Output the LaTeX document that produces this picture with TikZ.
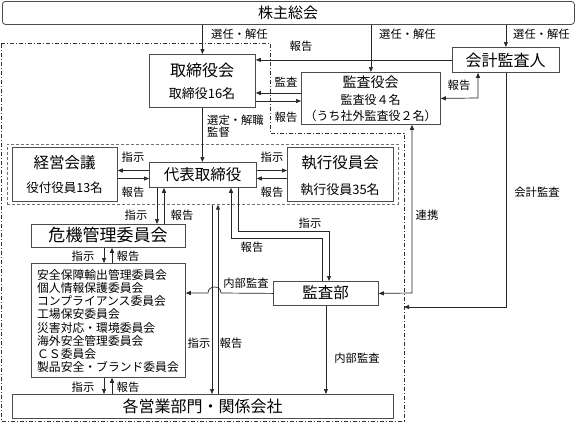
\documentclass[tikz,border=0pt]{standalone}
\usepackage{fontspec}
\setmainfont{Noto Sans CJK JP}
\usetikzlibrary{arrows.meta}
\newcommand\fsz[1]{\fontsize{#1bp}{#1bp}\selectfont}
\tikzset{
  box/.style={draw=black!70, line width=0.8bp, rectangle, inner sep=0pt, anchor=north west},
  conn/.style={draw=black!85, line width=0.7bp},
  arr/.style={conn, -{Triangle[length=5bp,width=4bp]}},
  barr/.style={conn, {Triangle[length=5bp,width=4bp]}-{Triangle[length=5bp,width=4bp]}},
  lab/.style={inner sep=0pt, font=\fsz{11.3}},
  txt/.style={inner sep=0pt},
  outerline/.style={draw=black!80, line width=0.7bp, dash pattern=on 4bp off 2bp on 1bp off 2bp},
  grpline/.style={draw=black!55, line width=0.7bp, dash pattern=on 3bp off 2bp},
}
\begin{document}
\begin{tikzpicture}[x=1bp,y=-1bp]
\useasboundingbox (0,0) rectangle (576,424);
\fill[white] (0,0) rectangle (576,424);

% outer dash-dot region
\draw[outerline] (1,43) -- (270,43) -- (270,133) -- (404,133) -- (404,421) -- (1,421) -- cycle;
% inner dashed group
\node[rectangle, grpline, inner sep=0pt, anchor=north west, minimum width=391bp, minimum height=60bp] (grp) at (7,144) {};

% boxes
\node[box, rounded corners=3bp, minimum width=572bp, minimum height=23bp] (kabu) at (2,1) {};
\node[box, minimum width=106bp, minimum height=53bp] (tori) at (149,54) {};
\node[box, minimum width=139bp, minimum height=52bp] (ksy) at (301,72) {};
\node[box, minimum width=107bp, minimum height=25bp] (kaikei) at (452,47) {};
\node[box, minimum width=105bp, minimum height=54bp] (keiei) at (12,147) {};
\node[box, minimum width=107bp, minimum height=25bp] (daihyo) at (149,162) {};
\node[box, minimum width=106bp, minimum height=54bp] (shikko) at (287,147) {};
\node[box, minimum width=154bp, minimum height=23bp] (kiki) at (31,224) {};
\node[box, minimum width=154bp, minimum height=114bp] (list) at (31,263) {};
\node[box, minimum width=105bp, minimum height=24bp] (kansabu) at (273,281) {};
\node[box, minimum width=381bp, minimum height=24bp] (eigyo) at (12,394) {};

% box texts
\node[txt, font=\fsz{15}] (t1) at (288,13) {株主総会};
\node[txt, font=\fsz{16}] (t2) at (202,70) {取締役会};
\node[txt, font=\fsz{13}] (t3) at (202,94) {取締役16名};
\node[txt, font=\fsz{14}] (t4) at (370.5,82) {監査役会};
\node[txt, font=\fsz{12}] (t5) at (370.5,100) {監査役４名};
\node[txt, font=\fsz{12}] (t6) at (370.5,115.5) {（うち社外監査役２名）};
\node[txt, font=\fsz{16}] (t7) at (505.5,60) {会計監査人};
\node[txt, font=\fsz{15.5}] (t8) at (64.5,163) {経営会議};
\node[txt, font=\fsz{12.5}] (t9) at (64.5,188) {役付役員13名};
\node[txt, font=\fsz{15.5}] (t10) at (202.5,175) {代表取締役};
\node[txt, font=\fsz{15.5}] (t11) at (340,163) {執行役員会};
\node[txt, font=\fsz{13}] (t12) at (340,190) {執行役員35名};
\node[txt, font=\fsz{17}] (t13) at (108,235.5) {危機管理委員会};
\node[txt, font=\fsz{15.5}] (t14) at (325.5,293) {監査部};
\node[txt, font=\fsz{16}] (t15) at (202.5,406) {各営業部門・関係会社};
\foreach \s [count=\i] in {安全保障輸出管理委員会,個人情報保護委員会,コンプライアンス委員会,工場保安委員会,災害対応・環境委員会,海外安全管理委員会,ＣＳ委員会,製品安全・ブランド委員会}
  \node[txt, font=\fsz{11.8}, anchor=west] (c\i) at (37,{275+(\i-1)*13.14}) {\s};

% connectors
\draw[arr] (kabu.south -| tori.north) -- (tori.north);
\draw[arr] (kabu.south -| ksy.north) -- (ksy.north);
\draw[arr] (kabu.south -| kaikei.north) -- (kaikei.north);
\draw[arr] (kaikei.west) -- (kaikei.west -| tori.east);
\draw[arr] (301,93 -| ksy.west) -- (301,93 -| tori.east);
\draw[arr] (255,101 -| tori.east) -- (255,101 -| ksy.west);
\draw[arr] (tori.south) -- (tori.south |- daihyo.north);
\draw[arr] (0,170.5 -| daihyo.west) -- (0,170.5 -| keiei.east);
\draw[arr] (0,178.5 -| keiei.east) -- (0,178.5 -| daihyo.west);
\draw[arr] (0,170.5 -| daihyo.east) -- (0,170.5 -| shikko.west);
\draw[arr] (0,178.5 -| shikko.west) -- (0,178.5 -| daihyo.east);
\draw[arr] (157,0 |- daihyo.south) -- (157,0 |- kiki.north);
\draw[arr] (164,0 |- kiki.north) -- (164,0 |- daihyo.south);
\draw[arr] (104,0 |- kiki.south) -- (104,0 |- list.north);
\draw[arr] (112,0 |- list.north) -- (112,0 |- kiki.south);
\draw[arr] (104,0 |- list.south) -- (104,0 |- eigyo.north);
\draw[arr] (112,0 |- eigyo.north) -- (112,0 |- list.south);
\draw[arr] (212,0 |- grp.south) -- (212,0 |- eigyo.north);
\draw[arr] (218,0 |- eigyo.north) -- (218,0 |- grp.south);
\draw[arr] (238,0 |- daihyo.south) -- (238,231) -- (329,231) -- (329,0 |- kansabu.north);
\draw[arr] (322,0 |- kansabu.north) -- (322,238) -- (231,238) -- (231,0 |- daihyo.south);
\draw[arr] (kansabu.west) -- (221,293) .. controls (221,285) and (208,285) .. (208,293) -- (0,293 -| list.east);
\draw[barr] (kansabu.east) -- (412,293) -- (412,0 |- ksy.south);
\coordinate (outerR) at (404,307);
\draw[arr] (kaikei.south) -- (kaikei.south |- outerR) -- (outerR);
\draw[arr] (kansabu.south) -- (kansabu.south |- eigyo.north);
\draw[barr] (478,0 |- kaikei.south) -- (478,98) -- (ksy.east);

% labels
\node[lab, anchor=west] (s1) at (211,34) {選任・解任};
\node[lab, anchor=west] (s2) at (379,34) {選任・解任};
\node[lab, anchor=west] (s3) at (513,34) {選任・解任};
\node[lab] (r1) at (301,46) {報告};
\node[lab] (r2) at (286,82) {監査};
\node[lab] (r3) at (286,117) {報告};
\node[lab, anchor=west] (r4) at (207,120) {選定・解職};
\node[lab, anchor=west] (r5) at (207,132.5) {監督};
\node[lab] (r6) at (133,157) {指示};
\node[lab] (r7) at (133,192) {報告};
\node[lab] (r8) at (272,157) {指示};
\node[lab] (r9) at (272,192) {報告};
\node[lab] (r10) at (136,215) {指示};
\node[lab] (r11) at (182,215) {報告};
\node[lab] (r12) at (83,256) {指示};
\node[lab] (r13) at (128,256) {報告};
\node[lab] (r14) at (83,387) {指示};
\node[lab] (r15) at (128,387) {報告};
\node[lab] (r16) at (199,343) {指示};
\node[lab] (r17) at (231,343) {報告};
\node[lab] (r18) at (310,223) {指示};
\node[lab] (r19) at (252,247) {報告};
\node[lab] (r20) at (246,283) {内部監査};
\node[lab] (r21) at (427,215) {連携};
\node[lab] (r22) at (537,192) {会計監査};
\node[lab] (r23) at (357,358) {内部監査};
\node[lab] (r24) at (459,85) {報告};
\end{tikzpicture}
\end{document}
